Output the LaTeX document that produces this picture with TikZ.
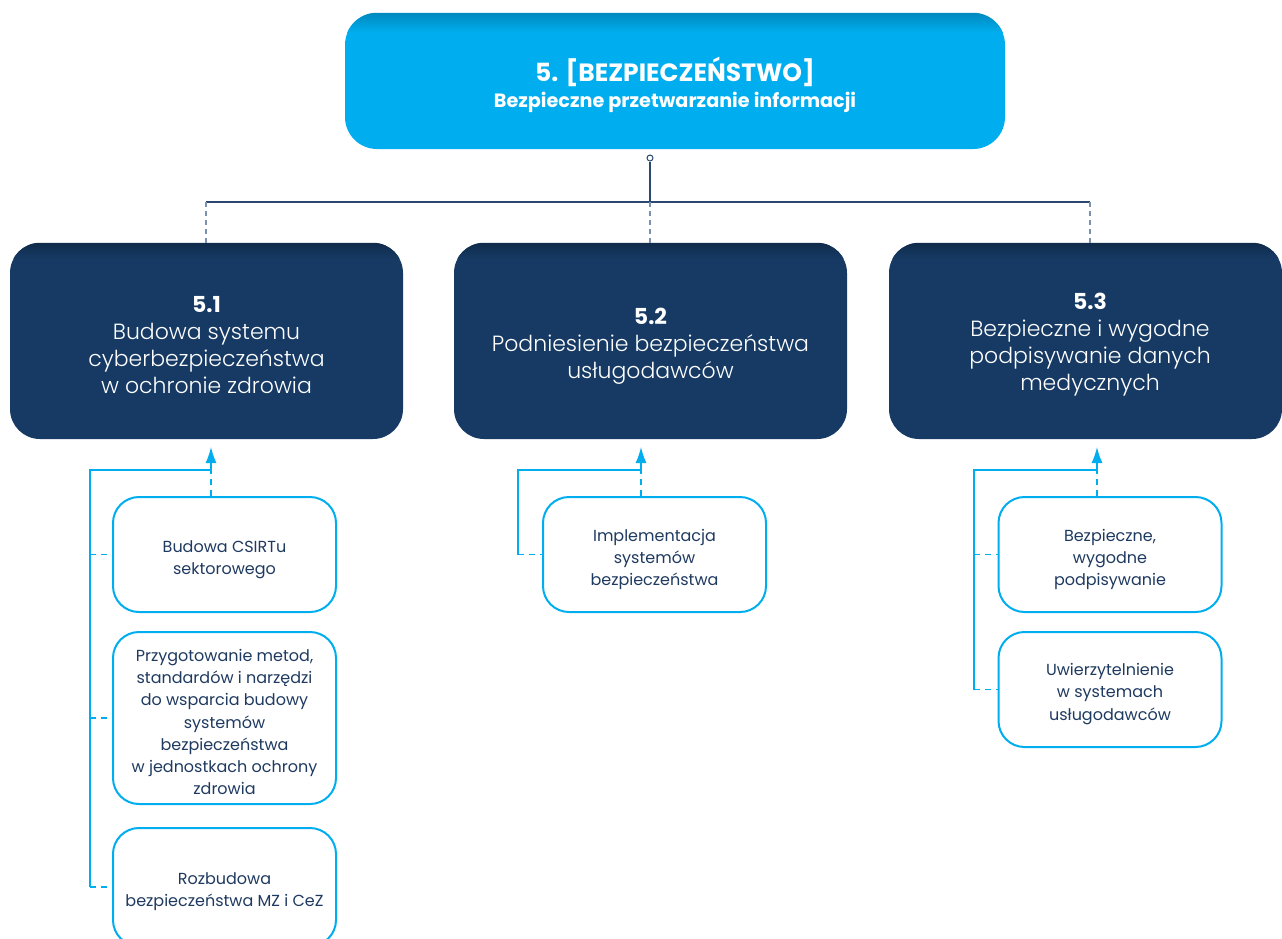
\documentclass[tikz,border=0pt]{standalone}
\usepackage{fontspec}
\setmainfont{Poppins}
\newfontfamily\plight{Poppins Light}
\usetikzlibrary{arrows.meta,calc}
\definecolor{cyanb}{HTML}{00AEEF}
\definecolor{cyand}{HTML}{0089BF}
\definecolor{navy}{HTML}{163A64}
\definecolor{navyd}{HTML}{102B4B}
\definecolor{txt}{HTML}{1F3A60}
\definecolor{linec}{HTML}{2A4870}
\definecolor{dashc}{HTML}{7A90AC}
\begin{document}
\begin{tikzpicture}[x=1pt,y=-1pt,
  topbox/.style={fill=cyanb, rounded corners=32, minimum width=660, minimum height=136, inner sep=0},
  toptext/.style={align=center, text=white, inner sep=0},
  lvlbox/.style={fill=navy, rounded corners=30, minimum width=393, minimum height=196, inner sep=0},
  lvltext/.style={align=center, text=white, inner sep=0, font=\plight\fontsize{22}{27}\selectfont},
  subbox/.style={draw=cyanb, line width=2, fill=white, rounded corners=26, minimum width=223, inner sep=0},
  subtext/.style={align=center, text=txt, inner sep=0, font=\fontsize{16}{22.2}\selectfont},
  treeline/.style={draw=linec, line width=1.1},
  treedash/.style={draw=dashc, line width=1.2, dash pattern=on 5 off 4},
  feed/.style={draw=cyanb, line width=1.4},
  feeddash/.style={draw=cyanb, line width=1.4, dash pattern=on 6 off 5},
  feedarrow/.style={draw=cyanb, line width=1.4, -{Latex[length=16,width=11]}}
]
\useasboundingbox (0,0) rectangle (1282,938);
\clip (0,0) rectangle (1282,938);

% top box
\node[topbox] (top) at (675,81) {};
\begin{scope}
  \clip[rounded corners=32] (top.north west) rectangle (top.south east);
  \shade[top color=cyand, bottom color=cyanb] (top.north west) rectangle ($(top.north east)+(0,20)$);
\end{scope}
\node[toptext] (topt) at (675,85) {\fontsize{25}{30}\selectfont\bfseries 5. [BEZPIECZEŃSTWO]\\[4pt]\fontsize{19.2}{22}\selectfont\bfseries Bezpieczne przetwarzanie informacji};

% level 2 boxes
\node[lvlbox] (l1) at (206.5,341) {};
\node[lvlbox] (l2) at (650.5,341) {};
\node[lvlbox] (l3) at (1085.5,341) {};
\foreach \n in {l1,l2,l3}{
  \begin{scope}
    \clip[rounded corners=30] (\n.north west) rectangle (\n.south east);
    \shade[top color=navyd, bottom color=navy] (\n.north west) rectangle ($(\n.north east)+(0,16)$);
  \end{scope}
}
\node[lvltext] (l1t) at (206.5,345) {{\normalfont\bfseries\fontsize{22}{27}\selectfont 5.1}\\Budowa systemu\\cyberbezpieczeństwa\\w ochronie zdrowia};
\node[lvltext] (l2t) at (650.5,346) {{\normalfont\bfseries\fontsize{22}{27}\selectfont 5.2}\\Podniesienie bezpieczeństwa\\usługodawców};
\node[lvltext] (l3t) at (1090,345) {{\normalfont\bfseries\fontsize{22}{27}\selectfont 5.3}\\Bezpieczne i wygodne\\podpisywanie danych\\medycznych};

% tree connectors
\node[circle, draw=linec, line width=1, fill=white, inner sep=0, minimum size=6] (knob) at (650,158) {};
\coordinate (hub) at (650,202);
\coordinate (b1) at (206,202);
\coordinate (b3) at (1090,202);
\draw[treeline] (knob.south) -- (hub);
\draw[treeline] (b1) -- (b3);
\draw[treedash] (b1) -- (b1 |- l1.north);
\draw[treedash] (hub) -- (hub |- l2.north);
\draw[treedash] (b3) -- (b3 |- l3.north);

% children of 5.1
\node[subbox, minimum height=115] (a1) at (224.5,554.5) {};
\node[subtext] (a1t) at (224.5,559.5) {Budowa CSIRTu\\sektorowego};
\node[subbox, minimum height=172] (a2) at (224.5,718) {};
\node[subtext] (a2t) at (224.5,722) {Przygotowanie metod,\\standardów i narzędzi\\do wsparcia budowy\\systemów\\bezpieczeństwa\\w jednostkach ochrony\\zdrowia};
\node[subbox, minimum height=118] (a3) at (224.5,887) {};
\node[subtext] (a3t) at (224.5,892) {Rozbudowa\\bezpieczeństwa MZ i CeZ};

% children of 5.2
\node[subbox, minimum height=115] (b21) at (654.5,554.5) {};
\node[subtext] (b21t) at (654.5,559.5) {Implementacja\\systemów\\bezpieczeństwa};

% children of 5.3
\node[subbox, minimum height=115] (c1) at (1110,554.5) {};
\node[subtext] (c1t) at (1110,559.5) {Bezpieczne,\\wygodne\\podpisywanie};
\node[subbox, minimum height=115] (c2) at (1110,689.5) {};
\node[subtext] (c2t) at (1110,694) {Uwierzytelnienie\\w systemach\\usługodawców};

% feedback connectors 5.1
\coordinate (e1) at (211,470);
\coordinate (t1) at (211,447);
\coordinate (s1) at (90,470);
\draw[feeddash] (e1 |- a1.north) -- (e1);
\draw[feedarrow] (e1) -- (t1);
\draw[feed] (e1) -- (s1) -- (s1 |- a3.west);
\draw[feeddash] (s1 |- a1.west) -- (a1.west);
\draw[feeddash] (s1 |- a2.west) -- (a2.west);
\draw[feeddash] (s1 |- a3.west) -- (a3.west);

% feedback connectors 5.2
\coordinate (e2) at (641,470);
\coordinate (t2) at (641,447);
\coordinate (s2) at (518,470);
\draw[feeddash] (e2 |- b21.north) -- (e2);
\draw[feedarrow] (e2) -- (t2);
\draw[feed] (e2) -- (s2) -- (s2 |- b21.west);
\draw[feeddash] (s2 |- b21.west) -- (b21.west);

% feedback connectors 5.3
\coordinate (e3) at (1097,470);
\coordinate (t3) at (1097,447);
\coordinate (s3) at (974,470);
\draw[feeddash] (e3 |- c1.north) -- (e3);
\draw[feedarrow] (e3) -- (t3);
\draw[feed] (e3) -- (s3) -- (s3 |- c2.west);
\draw[feeddash] (s3 |- c1.west) -- (c1.west);
\draw[feeddash] (s3 |- c2.west) -- (c2.west);
\end{tikzpicture}
\end{document}
